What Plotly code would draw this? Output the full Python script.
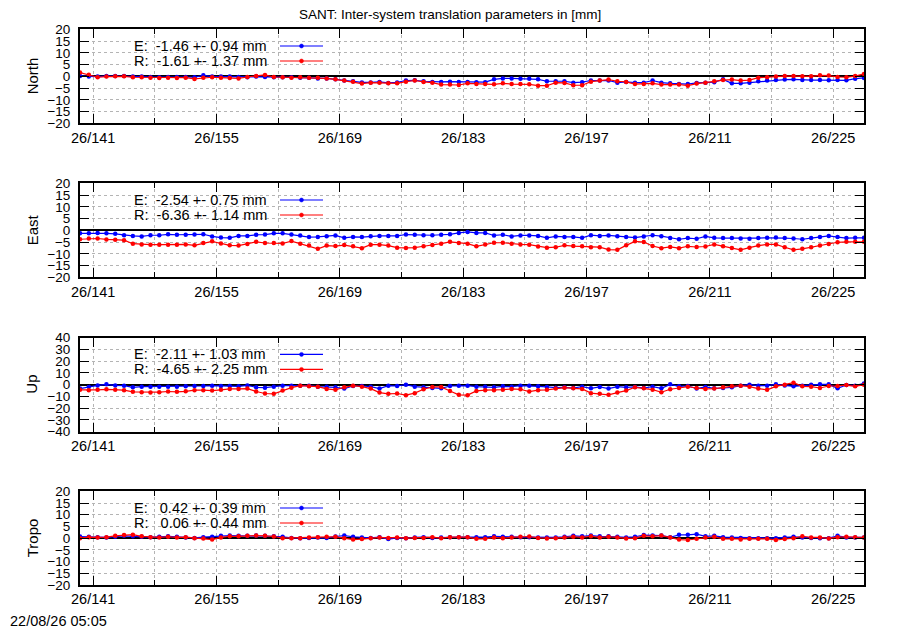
import plotly.graph_objects as go
from plotly.subplots import make_subplots

# day of year 2026 (one solution per day)
days = [139.5 + k for k in range(90)]

north_e = [0.1, -0.1, -0.1, 0.1, 0.1, 0.1, -0.1, -0.1, -0.3, -0.4, -0.3, -0.3, -0.3, -0.4, 0.4,
           -0.1, -0.1, -0.1, -0.3, -0.4, -0.1, -0.3, -0.4, -0.4, -0.4, -0.6, -0.6, -0.9, -0.9, -1.3,
           -1.8, -2.1, -2.6, -2.6, -2.4, -2.8, -2.6, -1.8, -1.7, -2.1, -2.4, -2.4, -2.3, -2.4, -2.4,
           -2.5, -2.5, -1.3, -0.9, -0.9, -1.0, -1.0, -1.3, -2.1, -2.1, -2.1, -2.7, -2.5, -1.8, -1.8,
           -1.8, -2.7, -2.4, -2.7, -2.7, -1.8, -2.7, -3.0, -3.3, -3.3, -2.8, -2.7, -2.5, -1.3, -3.0,
           -3.0, -2.7, -2.1, -1.8, -1.6, -1.4, -1.3, -1.6, -1.6, -1.6, -1.7, -1.6, -1.7, -1.0, -0.7]
north_r = [1.6, 0.7, -0.4, -0.1, 0.0, 0.0, -0.4, -0.4, -0.6, -0.7, -0.6, -0.7, -0.6, -1.1, -0.6,
           -0.4, -0.6, -0.7, -0.9, -0.3, 0.1, 0.6, -0.3, -0.4, -0.6, -0.4, -0.6, -0.6, -0.9, -1.3,
           -1.8, -2.3, -3.1, -2.7, -2.7, -3.0, -3.0, -2.3, -1.8, -2.4, -2.7, -3.5, -3.5, -3.7, -3.0,
           -3.3, -3.3, -3.4, -3.0, -3.3, -3.3, -3.4, -4.0, -4.0, -2.7, -2.8, -3.8, -3.8, -2.3, -1.8,
           -1.4, -2.1, -2.4, -3.3, -3.3, -3.0, -3.5, -3.5, -3.5, -4.0, -3.1, -2.7, -2.1, -1.6, -1.4,
           -1.8, -1.6, -0.6, -0.4, -0.1, 0.1, 0.1, 0.0, 0.0, 0.4, 0.3, -0.3, -0.4, 0.1, 1.0]

east_e = [-1.3, -1.3, -1.1, -1.3, -1.5, -2.1, -2.4, -2.6, -2.1, -2.1, -1.7, -1.9, -1.9, -1.8, -1.7,
          -2.6, -3.1, -3.2, -2.4, -2.4, -1.9, -1.8, -1.3, -1.3, -1.8, -2.2, -2.9, -2.8, -2.5, -2.2,
          -3.2, -2.8, -2.9, -2.5, -2.4, -2.4, -2.4, -1.8, -1.9, -2.1, -2.1, -1.9, -1.7, -1.1, -0.7,
          -1.1, -1.1, -2.2, -1.9, -2.6, -2.2, -2.2, -2.4, -3.2, -2.6, -2.8, -2.8, -3.2, -2.1, -2.4,
          -2.2, -2.5, -2.8, -3.1, -2.6, -2.1, -2.5, -3.3, -3.8, -3.3, -3.6, -2.6, -3.2, -3.3, -3.3,
          -3.5, -3.6, -3.3, -3.2, -3.1, -3.3, -3.5, -3.8, -3.3, -2.9, -2.4, -2.9, -3.3, -3.2, -3.2]
east_r = [-3.8, -3.5, -3.5, -3.9, -4.0, -4.2, -5.7, -6.0, -6.1, -6.1, -6.1, -6.1, -6.0, -6.4, -5.4,
          -4.7, -5.6, -6.4, -6.5, -5.8, -4.9, -5.4, -5.4, -5.6, -4.6, -5.7, -6.5, -7.9, -6.5, -6.7,
          -6.3, -6.8, -7.6, -6.1, -6.1, -6.5, -7.4, -7.5, -7.4, -6.8, -6.3, -5.7, -4.9, -5.4, -5.7,
          -6.8, -6.0, -5.3, -5.3, -5.7, -6.0, -6.1, -6.9, -7.4, -7.2, -6.4, -6.7, -6.8, -7.2, -7.2,
          -8.2, -8.3, -6.4, -4.7, -5.0, -6.7, -7.6, -7.1, -7.6, -6.8, -7.1, -6.9, -6.0, -6.8, -7.5,
          -8.3, -7.4, -6.5, -6.0, -6.0, -7.2, -8.3, -7.9, -7.2, -6.5, -5.8, -5.1, -4.9, -4.9, -4.9]

up_e = [-3.3, -1.7, -0.6, 0.3, -0.6, -0.8, -2.2, -1.7, -1.7, -1.7, -1.7, -1.7, -1.4, -1.1, -1.1,
        -0.8, -1.1, -1.1, -1.4, -0.6, -2.2, -2.5, -1.7, -0.8, -0.8, -0.8, -0.8, -1.7, -1.7, -2.2,
        -3.3, -1.1, -1.1, -1.7, -3.3, -0.8, -1.1, 0.0, -1.7, -2.2, -2.8, -3.1, -1.1, -0.8, -0.8,
        -1.7, -1.7, -2.2, -1.4, -1.7, -0.8, -0.8, -1.4, -1.9, -2.5, -2.2, -2.8, -1.7, -3.1, -1.9,
        -3.3, -1.7, -2.2, -1.9, -2.8, -1.7, -3.1, 0.3, -1.4, -1.1, -3.3, -1.9, -3.1, -2.8, -2.2,
        -0.8, 0.0, -0.8, -0.8, 0.3, -0.6, -1.4, -0.8, 0.0, 0.3, 0.3, -3.1, -0.3, -0.8, 1.1]
up_r = [-4.4, -4.7, -4.4, -3.9, -4.4, -4.7, -6.1, -6.4, -6.7, -6.4, -5.8, -6.1, -5.6, -4.7, -4.7,
        -5.0, -4.4, -3.6, -3.6, -3.3, -5.8, -7.5, -7.8, -5.0, -2.5, -0.8, -1.4, -1.7, -3.6, -4.4,
        -2.2, -0.8, -1.7, -3.3, -6.7, -7.8, -7.5, -8.9, -7.2, -3.9, -1.9, -1.9, -5.3, -8.6, -8.9,
        -5.3, -4.7, -4.7, -4.2, -3.6, -3.9, -5.8, -4.7, -4.4, -3.3, -2.5, -3.1, -3.6, -7.2, -7.8,
        -8.6, -6.7, -5.0, -2.2, -3.1, -4.2, -6.4, -3.9, -2.8, -1.7, -2.8, -3.6, -3.3, -2.2, -1.4,
        -0.8, -1.7, -3.3, -4.4, -1.4, 0.0, 1.7, -1.4, -1.7, -2.8, -1.1, -1.1, -0.3, -1.4, 0.0]

tropo_e = [0.7, 0.6, 0.4, 0.3, 0.6, 1.0, 0.8, 0.6, 0.4, 0.6, 0.8, 0.6, 0.3, 0.1, 0.4,
           0.6, 1.0, 1.1, 1.0, 1.0, 1.1, 1.0, 0.8, 0.6, 0.1, 0.0, 0.1, 0.3, 0.1, 0.7,
           1.1, 0.6, 0.3, 0.1, 0.4, -0.4, 0.1, 0.0, 0.3, 0.4, 0.1, 0.3, 0.4, 0.4, 0.4,
           0.4, 0.4, 0.8, 0.6, 0.6, 0.4, 0.4, 0.3, 0.3, 0.3, 0.6, 1.0, 0.8, 1.1, 0.8,
           0.8, 0.6, 0.3, 0.6, 1.3, 1.1, 1.1, 0.4, 1.4, 1.4, 1.7, 0.8, 1.0, 0.4, 0.3,
           0.1, 0.0, 0.0, 0.0, 0.0, 0.3, 0.6, 0.3, 0.1, 0.0, 0.0, 1.0, 0.3, 0.3, 0.3]
tropo_r = [0.0, 0.4, 0.3, 0.4, 1.0, 1.3, 1.5, 0.8, 0.4, 0.3, 0.6, 0.3, 0.4, 0.0, -0.1,
           -0.6, 0.3, 0.8, 0.8, 1.0, 1.1, 1.0, 0.7, 0.0, 0.0, 0.0, 0.3, 0.4, 0.6, 0.6,
           0.0, -0.6, -0.4, 0.0, 0.3, 0.1, 0.3, 0.0, 0.1, 0.1, 0.4, 0.0, 0.4, 0.4, 0.4,
           -0.3, -0.3, 0.3, 0.0, 0.3, 0.6, 0.7, 0.1, -0.1, 0.0, 0.3, 0.6, 0.3, 0.8, 0.3,
           0.6, 0.3, -0.1, 0.0, 1.0, 0.8, 1.1, 0.3, -0.6, -0.8, -0.3, 0.3, 0.6, -0.3, -0.3,
           -0.6, -0.3, -0.3, -0.3, -0.8, -0.4, 0.0, 0.8, 0.3, 0.3, -0.1, 0.4, 0.6, 0.4, 0.3]

panel_names = ["North", "East", "Up", "Tropo"]
e_series = [north_e, east_e, up_e, tropo_e]
r_series = [north_r, east_r, up_r, tropo_r]
e_text = ["E:\u00a0\u00a0-1.46 +- 0.94 mm", "E:\u00a0\u00a0-2.54 +- 0.75 mm",
          "E:\u00a0\u00a0-2.11 +- 1.03 mm", "E:\u00a0\u00a0\u00a00.42 +- 0.39 mm"]
r_text = ["R:\u00a0\u00a0-1.61 +- 1.37 mm", "R:\u00a0\u00a0-6.36 +- 1.14 mm",
          "R:\u00a0\u00a0-4.65 +- 2.25 mm", "R:\u00a0\u00a0\u00a00.06 +- 0.44 mm"]
y_limits = [20, 20, 40, 20]
y_steps = [5, 5, 10, 5]

title = "SANT: Inter-system translation parameters in [mm]"
stamp = "22/08/26 05:05"

# page puts the figure 8px in from the top-left, so the figure is 8px smaller
PAGE = 8
FIG_W, FIG_H = 900 - PAGE, 630 - PAGE

# positions below are window pixels
X0, X1, Y0, Y1 = 80, 864, 29, 585


def xp(px):
    return (px - X0) / (X1 - X0)


def yp(py):
    return (Y1 - py) / (Y1 - Y0)


panel_tops = [29.3, 183.3, 337.7, 491.3]
panel_h = 94

FONT = "Liberation Sans, Arial, sans-serif"
BLUE = "#0000ff"
RED = "#ff0000"
GRID = "#b4b4b4"

fig = make_subplots(rows=4, cols=1)

shapes = []
annotations = []
for k in range(4):
    row = k + 1
    fig.add_trace(go.Scatter(x=days, y=e_series[k], mode="lines+markers",
                             line=dict(color=BLUE, width=1.2),
                             marker=dict(color=BLUE, size=4.5), showlegend=False),
                  row=row, col=1)
    fig.add_trace(go.Scatter(x=days, y=r_series[k], mode="lines+markers",
                             line=dict(color=RED, width=1.2),
                             marker=dict(color=RED, size=4.5), showlegend=False),
                  row=row, col=1)

    top = panel_tops[k]
    lo = max(0.0, yp(top + panel_h))
    hi = min(1.0, yp(top))
    ax = "" if k == 0 else str(row)

    fig.layout["xaxis" + ax].update(
        domain=[0, 1], range=[139.5, 228.5],
        tickmode="linear", tick0=141, dtick=14, tickprefix="26/",
        ticks="inside", ticklen=9, tickwidth=1, tickcolor="black",
        showline=True, linecolor="black", linewidth=2, mirror="ticks",
        showgrid=True, gridcolor=GRID, griddash="dot", gridwidth=1,
        zeroline=False,
        minor=dict(tick0=141, dtick=7, ticks="inside", ticklen=5, tickcolor="black",
                   showgrid=True, gridcolor=GRID, griddash="dot", gridwidth=1),
        tickfont=dict(family=FONT, size=14.5, color="black"),
    )
    lim = y_limits[k]
    fig.layout["yaxis" + ax].update(
        domain=[lo, hi], range=[-lim, lim],
        tickmode="linear", tick0=-lim, dtick=y_steps[k],
        ticks="inside", ticklen=9, tickwidth=1, tickcolor="black",
        showline=True, linecolor="black", linewidth=2, mirror="ticks",
        showgrid=True, gridcolor=GRID, griddash="dot", gridwidth=1,
        zeroline=True, zerolinecolor="black", zerolinewidth=2,
        tickfont=dict(family=FONT, size=13.5, color="black"),
        ticklabelstandoff=5,
    )

    # opaque key box (hides grid behind the key, like gnuplot)
    shapes.append(dict(type="rect", xref="paper", yref="paper",
                       x0=0, x1=xp(573), y0=yp(top + 44), y1=yp(top + 1),
                       fillcolor="white", line=dict(width=0), layer="between"))

    for j, (txt, col) in enumerate([(e_text[k], BLUE), (r_text[k], RED)]):
        ly = top + 16.7 + 15 * j
        annotations.append(dict(text=txt, xref="paper", yref="paper",
                                x=xp(132), y=yp(ly), xanchor="left", yanchor="middle",
                                showarrow=False,
                                font=dict(family=FONT, size=14.5, color="black")))
        shapes.append(dict(type="line", xref="paper", yref="paper",
                           x0=xp(280), x1=xp(323), y0=yp(ly), y1=yp(ly),
                           line=dict(color=col, width=1.2), layer="above"))
        shapes.append(dict(type="circle", xref="paper", yref="paper",
                           x0=xp(299.5), x1=xp(303.5), y0=yp(ly + 2), y1=yp(ly - 2),
                           fillcolor=col, line=dict(color=col, width=0.5), layer="above"))

    annotations.append(dict(text=panel_names[k], xref="paper", yref="paper",
                            x=xp(32), y=yp(top + panel_h / 2), textangle=-90,
                            xanchor="center", yanchor="middle", showarrow=False,
                            font=dict(family=FONT, size=15, color="black")))

annotations.append(dict(text=title, xref="paper", yref="paper",
                        x=xp(450), y=yp(14.5), xanchor="center", yanchor="middle",
                        showarrow=False, font=dict(family=FONT, size=13.5, color="black")))
annotations.append(dict(text=stamp, xref="paper", yref="paper",
                        x=xp(8), y=yp(621), xanchor="left", yanchor="middle",
                        showarrow=False, font=dict(family=FONT, size=14.5, color="black")))

fig.update_layout(
    width=FIG_W, height=FIG_H,
    margin=dict(l=X0 - PAGE, r=900 - X1, t=Y0 - PAGE, b=630 - Y1),
    paper_bgcolor="white", plot_bgcolor="white",
    shapes=shapes, annotations=annotations,
    showlegend=False,
)

fig.write_html("out.html")
